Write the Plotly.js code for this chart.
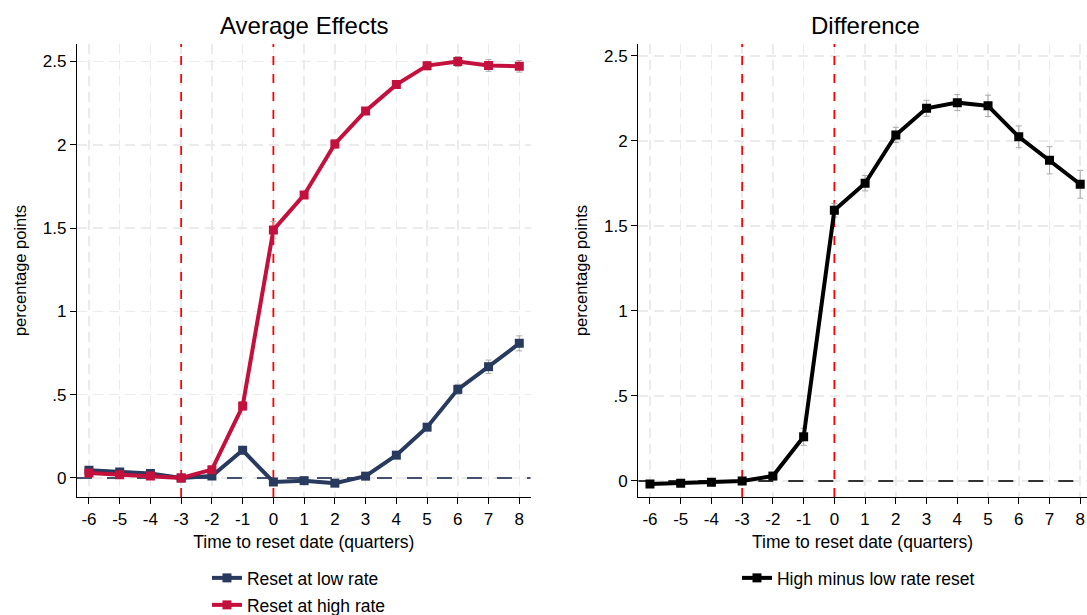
<!DOCTYPE html>
<html>
<head>
<meta charset="utf-8">
<script src="https://cdn.plot.ly/plotly-3.0.1.min.js"></script>
<style>html,body{margin:0;padding:0;background:#fff;}#chart{width:1087px;height:615px;}</style>
</head>
<body>
<div id="chart"></div>
<script>
// ---- data ----
const quarters = [-6,-5,-4,-3,-2,-1,0,1,2,3,4,5,6,7,8];
const xTickText = ["-6","-5","-4","-3","-2","-1","0","1","2","3","4","5","6","7","8"];
const yTickVals = [0,0.5,1,1.5,2,2.5];
const yTickText = ["0",".5","1","1.5","2","2.5"];

const lowRate     = [0.047,0.036,0.027,0.0,0.012,0.166,-0.024,-0.016,-0.031,0.011,0.137,0.305,0.532,0.668,0.808];
const lowRateErr  = [0.010,0.010,0.010,0.008,0.010,0.020,0.012,0.012,0.012,0.012,0.015,0.020,0.030,0.040,0.045];
const highRate    = [0.030,0.020,0.012,0.0,0.050,0.432,1.489,1.699,2.005,2.203,2.361,2.475,2.500,2.476,2.471];
const highRateErr = [0.010,0.010,0.010,0.008,0.012,0.025,0.050,0.020,0.025,0.020,0.022,0.025,0.030,0.035,0.035];
const diffVals    = [-0.017,-0.013,-0.007,0.0,0.029,0.260,1.592,1.751,2.035,2.192,2.225,2.206,2.024,1.886,1.745];
const diffErr     = [0.010,0.010,0.010,0.008,0.015,0.050,0.040,0.045,0.045,0.047,0.047,0.063,0.064,0.080,0.082];

const eventLines = [-3, 0];

const navy = '#283a5e';
const crimson = '#c4103c';
const font = 'Liberation Sans, Arial, sans-serif';

const xRangeL = [-6.39, 8.37], yRangeL = [-0.114, 2.605];
const xRangeR = [-6.38, 8.22], yRangeR = [-0.094, 2.57];

function trace(y, err, color, name, xa, ya, legend) {
  return {
    x: quarters, y: y, type: 'scatter', mode: 'lines+markers', name: name,
    xaxis: xa, yaxis: ya, legend: legend,
    line: {color: color, width: 4},
    marker: {symbol: 'square', size: 9, color: color},
    error_y: {type: 'data', array: err, visible: true, color: '#a8a8a8', thickness: 1, width: 3}
  };
}
function refLine(x, y, color, dash, xa, ya) {
  return {x: x, y: y, type: 'scatter', mode: 'lines', xaxis: xa, yaxis: ya,
    showlegend: false, hoverinfo: 'skip', line: {color: color, width: 1.8, dash: dash}};
}

const data = [];
// reference lines first so they sit beneath the series
data.push(refLine(xRangeL, [0, 0], '#44516e', 'longdash', 'x', 'y'));
data.push(refLine(xRangeR, [0, 0], '#333333', 'longdash', 'x2', 'y2'));
eventLines.forEach(v => {
  data.push(refLine([v, v], yRangeL, '#ff0000', 'dash', 'x', 'y'));
  data.push(refLine([v, v], yRangeR, '#ff0000', 'dash', 'x2', 'y2'));
});
data.push(trace(lowRate, lowRateErr, navy, 'Reset at low rate', 'x', 'y', 'legend'));
data.push(trace(highRate, highRateErr, crimson, 'Reset at high rate', 'x', 'y', 'legend3'));
data.push(trace(diffVals, diffErr, '#000000', 'High minus low rate reset', 'x2', 'y2', 'legend2'));

function xaxis(domain, anchor, range) {
  return {
    domain: domain, anchor: anchor, range: range,
    tickmode: 'array', tickvals: quarters, ticktext: xTickText,
    ticks: 'outside', ticklen: 6, tickcolor: '#000', tickwidth: 1,
    showline: true, linecolor: '#000', linewidth: 1.2, mirror: false,
    showgrid: true, gridcolor: '#ebebeb', gridwidth: 1.5, griddash: '10px,6px',
    zeroline: false,
    tickfont: {family: font, size: 17, color: '#000'},
    title: {text: 'Time to reset date (quarters)', font: {family: font, size: 17.5, color: '#000'}, standoff: 8}
  };
}
function yaxis(domain, anchor, range) {
  return {
    domain: domain, anchor: anchor, range: range,
    tickmode: 'array', tickvals: yTickVals, ticktext: yTickText,
    ticks: 'outside', ticklen: 6, tickcolor: '#000', tickwidth: 1,
    showline: true, linecolor: '#000', linewidth: 1.2, mirror: false,
    showgrid: true, gridcolor: '#ebebeb', gridwidth: 1.5, griddash: '10px,6px',
    zeroline: false,
    tickfont: {family: font, size: 17, color: '#000'},
    title: {text: 'percentage points', font: {family: font, size: 16.5, color: '#000'}, standoff: 12}
  };
}

const ydom = [0.1919, 0.9285];
const legendFont = {family: font, size: 17.5, color: '#000'};
const layout = {
  width: 1087, height: 615,
  margin: {l: 0, r: 0, t: 0, b: 0, autoexpand: false},
  paper_bgcolor: '#fff', plot_bgcolor: '#fff',
  font: {family: font, color: '#000'},
  xaxis: xaxis([0.0708, 0.4882], 'y', xRangeL),
  yaxis: yaxis(ydom, 'x', yRangeL),
  xaxis2: xaxis([0.5872, 1.0], 'y2', xRangeR),
  yaxis2: yaxis(ydom, 'x2', yRangeR),
  showlegend: true,
  legend: {x: 0.1904, y: 1 - 578/615, xanchor: 'left', yanchor: 'middle', orientation: 'v',
    font: legendFont, bgcolor: 'rgba(0,0,0,0)', itemwidth: 30},
  legend3: {x: 0.1904, y: 1 - 605/615, xanchor: 'left', yanchor: 'middle', orientation: 'v',
    font: legendFont, bgcolor: 'rgba(0,0,0,0)', itemwidth: 30},
  legend2: {x: 0.678, y: 1 - 578/615, xanchor: 'left', yanchor: 'middle', orientation: 'v',
    font: legendFont, bgcolor: 'rgba(0,0,0,0)', itemwidth: 30},
  annotations: [
    {text: 'Average Effects', xref: 'paper', yref: 'paper', x: 304/1087, y: 1 - 25/615, xanchor: 'center', yanchor: 'middle',
      showarrow: false, font: {family: font, size: 24, color: '#000'}},
    {text: 'Difference', xref: 'paper', yref: 'paper', x: 865/1087, y: 1 - 25/615, xanchor: 'center', yanchor: 'middle',
      showarrow: false, font: {family: font, size: 24, color: '#000'}}
  ]
};

Plotly.newPlot('chart', data, layout, {displayModeBar: false, staticPlot: true});
</script>
</body>
</html>
